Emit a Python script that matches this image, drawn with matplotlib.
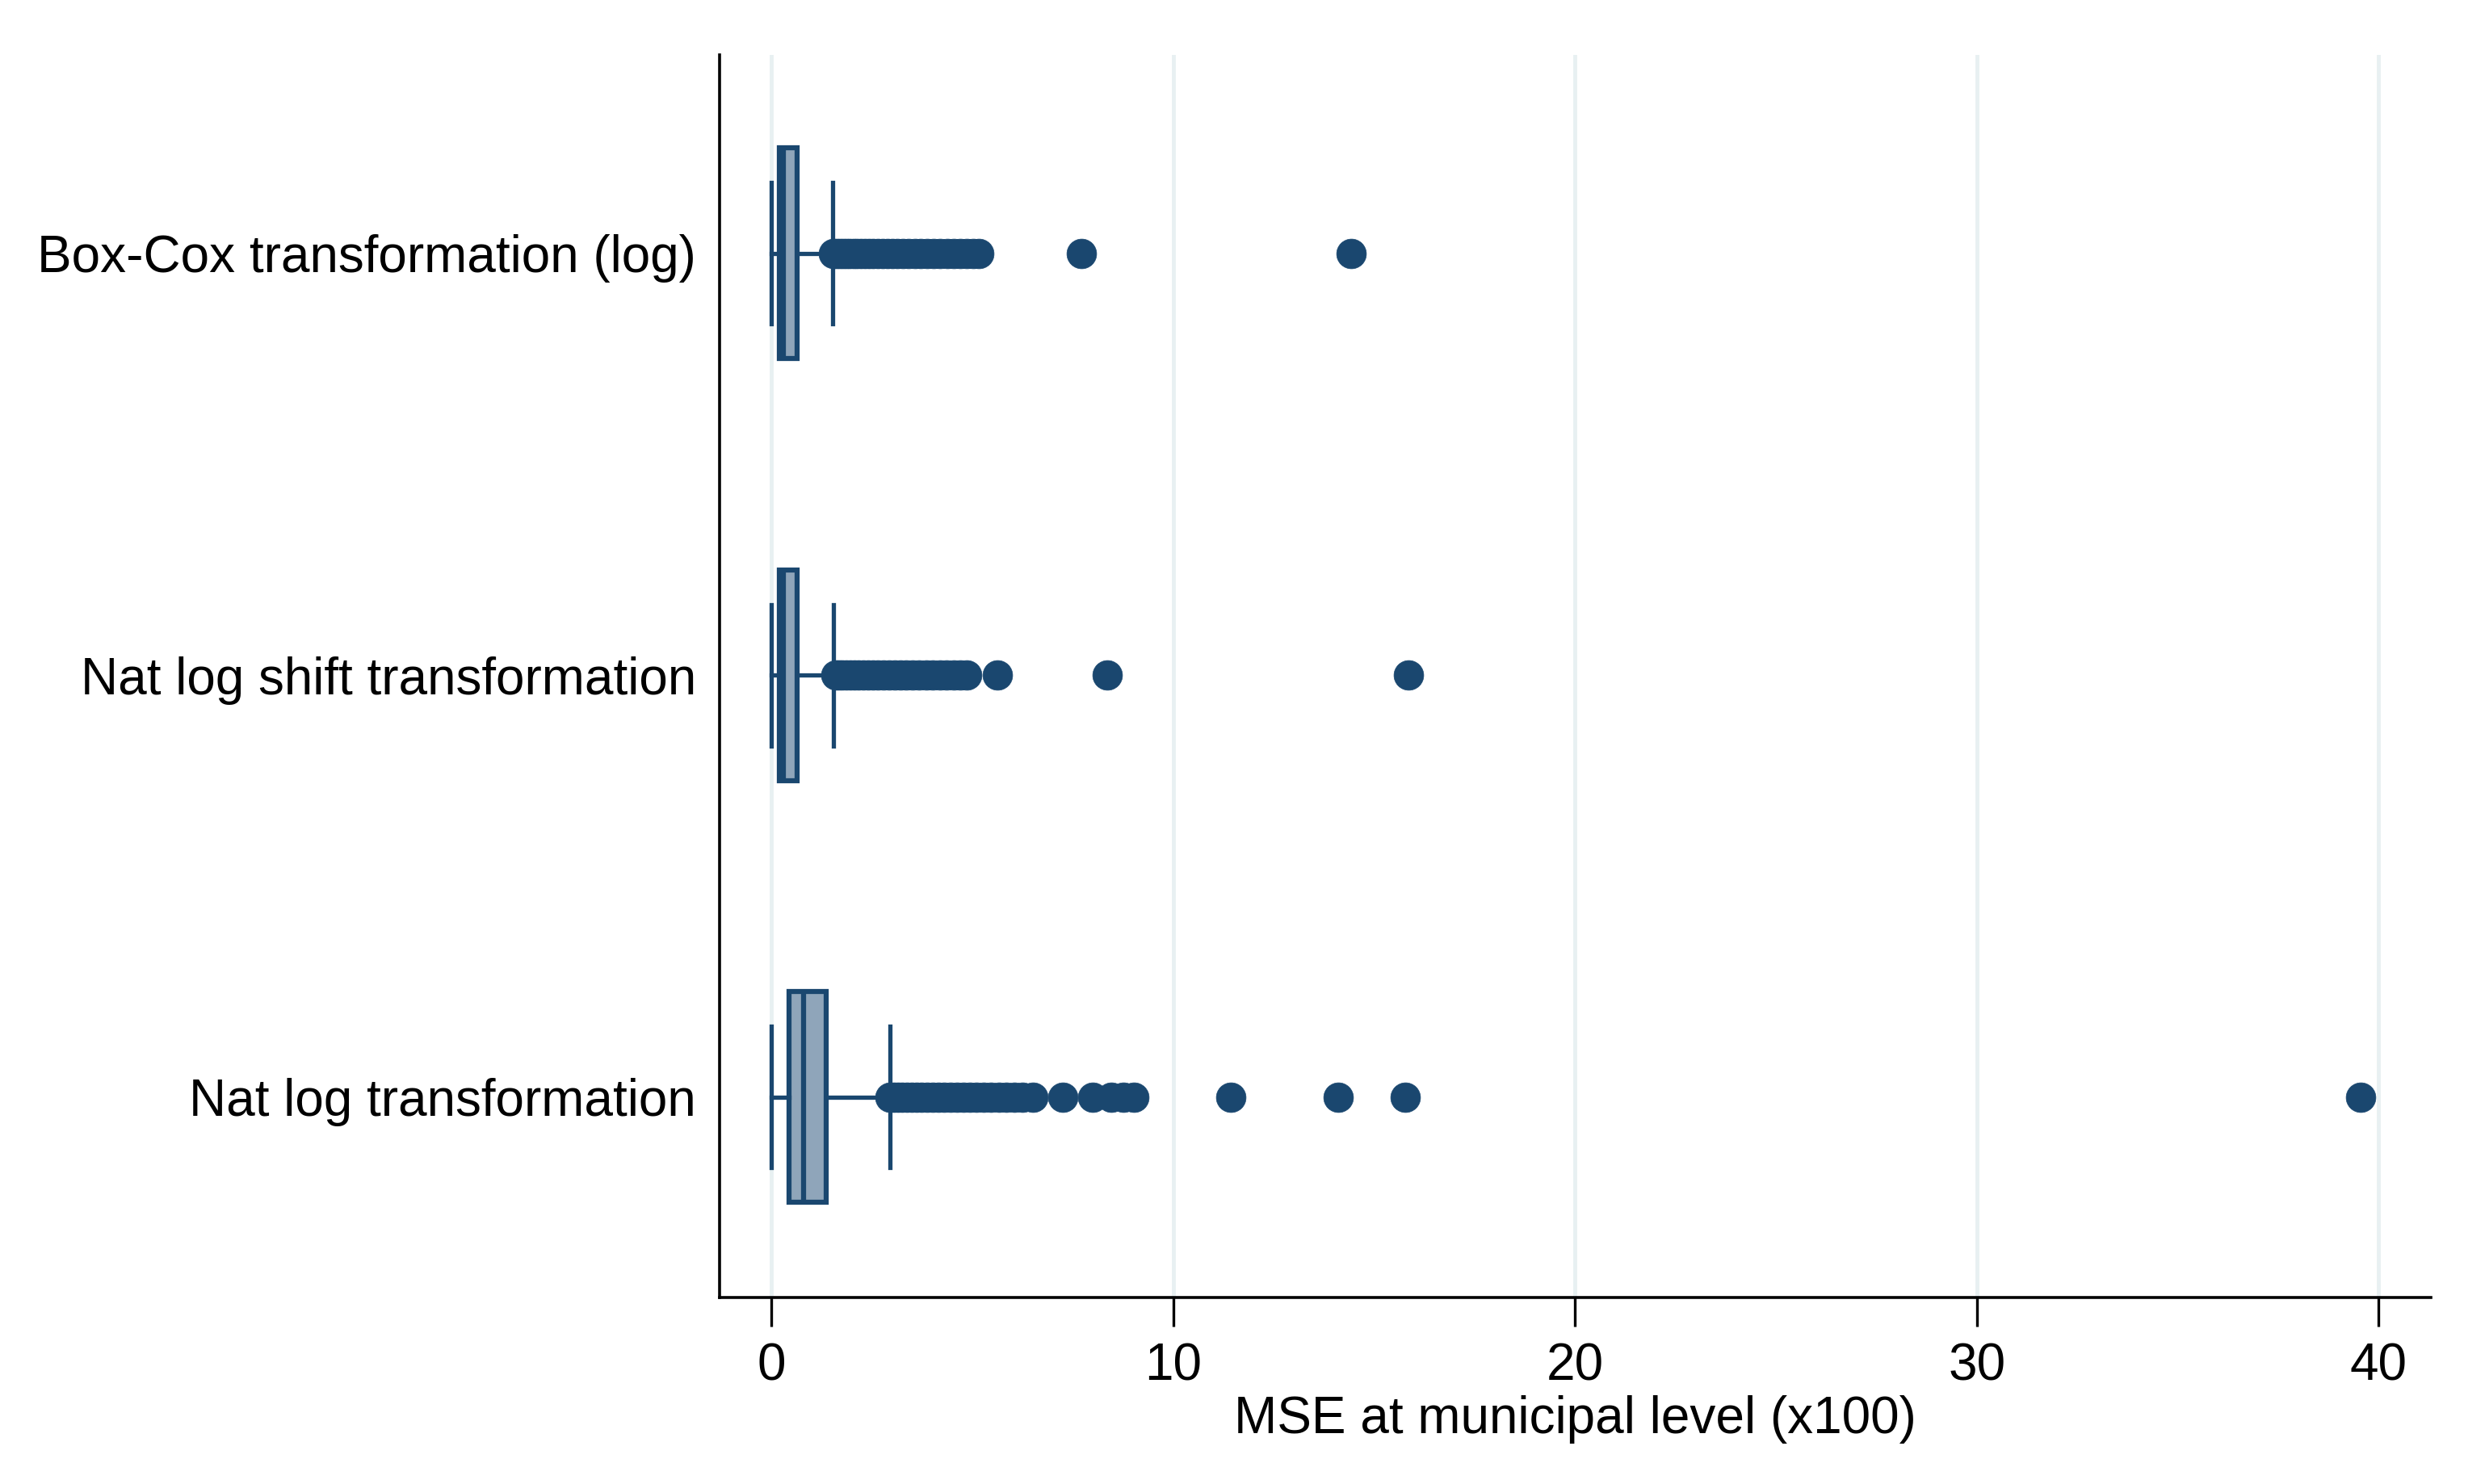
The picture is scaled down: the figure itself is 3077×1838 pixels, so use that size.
import matplotlib
matplotlib.use("Agg")
import matplotlib.pyplot as plt

plt.rcParams["font.family"] = ["Liberation Sans", "DejaVu Sans"]

NAVY = "#1a476f"
FILL = "#8fa5ba"
GRID = "#e8f0f2"

# categories, top to bottom in the picture
labels = ["Box-Cox transformation (log)", "Nat log shift transformation", "Nat log transformation"]

# box statistics (MSE x100)
whislo = [0.0, 0.0, 0.0]
q1 = [0.20, 0.20, 0.44]
med = [0.30, 0.30, 0.80]
q3 = [0.63, 0.64, 1.37]
whishi = [1.53, 1.55, 2.95]

fliers_boxcox = [1.55, 1.62, 1.70, 1.78, 1.86, 1.95, 2.04, 2.13, 2.22, 2.32,
                 2.42, 2.53, 2.64, 2.76, 2.88, 3.01, 3.14, 3.28, 3.42, 3.57,
                 3.72, 3.88, 4.04, 4.20, 4.37, 4.54, 4.70, 4.86, 5.02, 5.17,
                 7.72, 14.43]
fliers_shift = [1.60, 1.68, 1.77, 1.86, 1.96, 2.06, 2.17, 2.28, 2.40, 2.52,
                2.65, 2.78, 2.92, 3.06, 3.21, 3.36, 3.52, 3.68, 3.85, 4.02,
                4.19, 4.36, 4.53, 4.70, 4.86, 5.62, 8.36, 15.86]
fliers_natlog = [2.95, 3.05, 3.15, 3.26, 3.37, 3.49, 3.61, 3.74, 3.87, 4.01,
                 4.15, 4.30, 4.45, 4.61, 4.77, 4.94, 5.11, 5.29, 5.47, 5.66,
                 5.85, 6.05, 6.25, 6.50, 7.25, 8.00, 8.45, 8.75, 9.02, 11.44,
                 14.10, 15.78, 39.56]
fliers = [fliers_boxcox, fliers_shift, fliers_natlog]

xticks = [0, 10, 20, 30, 40]

stats = []
for i in range(len(labels)):
    stats.append({
        "label": labels[i],
        "whislo": whislo[i],
        "q1": q1[i],
        "med": med[i],
        "q3": q3[i],
        "whishi": whishi[i],
        "fliers": fliers[i],
    })

positions = [3, 2, 1]

fig = plt.figure(figsize=(30.77, 18.38), dpi=100)
ax = fig.add_axes([0.2896, 0.1257, 0.9782 - 0.2896, 0.963 - 0.1257])

ax.bxp(
    stats,
    positions=positions,
    widths=0.5,
    capwidths=0.335,
    orientation="horizontal",
    patch_artist=True,
    boxprops=dict(facecolor=FILL, edgecolor=NAVY, linewidth=4.5),
    medianprops=dict(color=NAVY, linewidth=4.5),
    whiskerprops=dict(color=NAVY, linewidth=3.8),
    capprops=dict(color=NAVY, linewidth=3.8),
    flierprops=dict(marker="o", markersize=26.5, markerfacecolor=NAVY,
                    markeredgecolor=NAVY, markeredgewidth=0.5, linestyle="none"),
    zorder=3,
)

ax.set_xlim(-1.29, 41.3)
ax.set_ylim(0.525, 3.47)
ax.set_xticks(xticks)
ax.set_xticklabels([str(t) for t in xticks])
ax.set_yticks(positions)
ax.set_yticklabels(labels)

ax.xaxis.grid(True, color=GRID, linewidth=3.5, zorder=0)
ax.set_axisbelow(True)

for side in ["top", "right"]:
    ax.spines[side].set_visible(False)
for side in ["left", "bottom"]:
    ax.spines[side].set_linewidth(2.6)
    ax.spines[side].set_color("black")

ax.tick_params(axis="x", length=26, width=2.4, pad=14, labelsize=46)
ax.tick_params(axis="y", length=0, pad=21, labelsize=46)

ax.set_xlabel("MSE at municipal level (x100)", fontsize=46, labelpad=4)

fig.savefig("out.png", dpi=100, facecolor="white")
